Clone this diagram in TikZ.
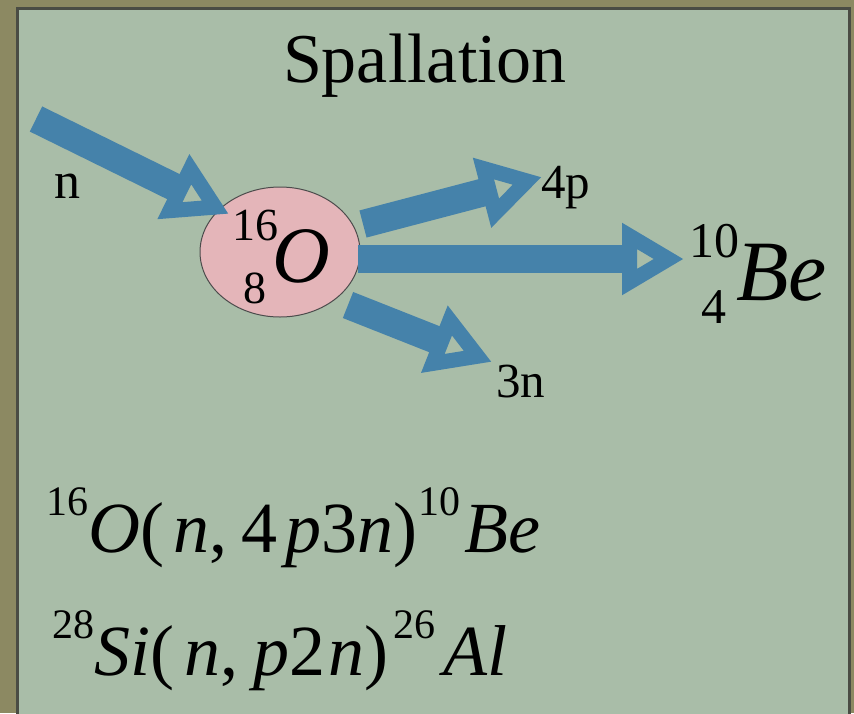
\documentclass[tikz,border=0pt]{standalone}
\usepackage{fontspec}
\setmainfont{Liberation Serif}
\usetikzlibrary{arrows.meta,shapes.geometric}

\definecolor{outerbg}{HTML}{8C8962}
\definecolor{panel}{HTML}{A9BDA8}
\definecolor{frame}{HTML}{4A4C44}
\definecolor{flowblue}{HTML}{4582AA}
\definecolor{nucpink}{HTML}{E4B5B9}
\newcommand{\fsz}[1]{\fontsize{#1}{#1}\selectfont}
\newcommand{\sps}[1]{\raisebox{37pt}{\fsz{42}#1}}

\begin{document}
\begin{tikzpicture}[x=1pt,y=-1pt,
  flow/.style={draw=flowblue,line width=28pt,
    -{Triangle[open,length=62pt,width=68pt,line width=15pt]}},
  lbl/.style={inner sep=0pt,anchor=base west}]
  \useasboundingbox (0,0) rectangle (854,713);
  \fill[outerbg] (0,0) rectangle (854,713);
  \filldraw[fill=panel,draw=frame,line width=3pt] (17,8) rectangle (849,720);
  \node[anchor=base,inner sep=0pt] (title) at (425,82) {\fsz{70}Spallation};
  % nucleus
  \node[ellipse,draw=black!70,fill=nucpink,line width=1pt,
    minimum width=160pt,minimum height=130pt] (oxy) at (280,252) {};
  \node[lbl] (oxyA) at (232,240) {\fsz{46}16};
  \node[lbl] (oxyZ) at (243,303) {\fsz{46}8};
  \node[lbl] (oxyO) at (272,282) {\fsz{80}\itshape O};
  % product
  \node[lbl] (beA) at (689,257) {\fsz{50}10};
  \node[lbl] (beZ) at (701,323) {\fsz{50}4};
  \node[lbl] (beS) at (736,300) {\fsz{86}\itshape Be};
  % particles
  \node[lbl] (lbn) at (54,198) {\fsz{52}n};
  \node[lbl] (lbp) at (541,198) {\fsz{49}4p};
  \node[lbl] (lbnn) at (496,397) {\fsz{49}3n};
  \coordinate (nsrc) at (36,119);
  \coordinate (ntip) at (229,214);
  \coordinate (psrc) at (363,224);
  \coordinate (ptip) at (542,177);
  \coordinate (besrc) at (358,259);
  \coordinate (betip) at (684,259);
  \coordinate (nnsrc) at (348,305);
  \coordinate (nntip) at (492,362);
  \draw[flow] (nsrc) -- (ntip);
  \draw[flow] (psrc) -- (ptip);
  \draw[flow] (besrc) -- (betip);
  \draw[flow] (nnsrc) -- (nntip);
  % reactions
  \node[lbl] (rxo) at (46,552) {\fsz{72}\sps{16}\textit{O}(\hspace{9pt}\textit{n},\hspace{14pt}4\hspace{8pt}\textit{p}3\textit{n})\hspace{1pt}\sps{10}\hspace{4pt}\textit{Be}};
  \node[lbl] (rxsi) at (52,675) {\fsz{72}\sps{28}\textit{Si}(\hspace{10pt}\textit{n},\hspace{15pt}\textit{p}2\hspace{3pt}\textit{n})\hspace{5pt}\sps{26}\hspace{8pt}\textit{Al}};
\end{tikzpicture}
\end{document}
